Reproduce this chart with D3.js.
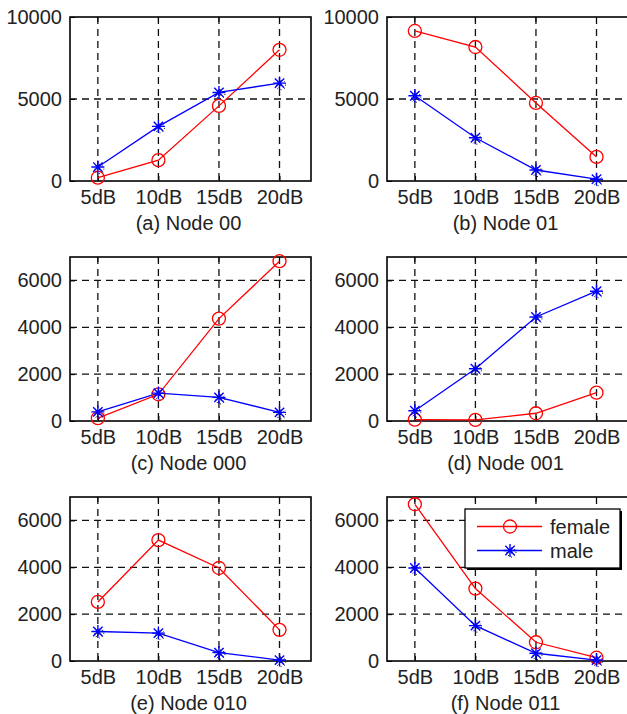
<!DOCTYPE html>
<html>
<head>
<meta charset="utf-8">
<script src="https://cdn.jsdelivr.net/npm/d3@7"></script>
<style>
  body { margin: 0; background: #fff; }
  svg { display: block; font-family: "Liberation Sans", Arial, sans-serif; }
</style>
</head>
<body>
<svg></svg>
<script>
// data
const snr = [5, 10, 15, 20];
const snrLabels = ['5dB', '10dB', '15dB', '20dB'];
const titles = ['(a) Node 00', '(b) Node 01', '(c) Node 000', '(d) Node 001', '(e) Node 010', '(f) Node 011'];
const yMax = [10000, 10000, 7000, 7000, 7000, 7000];
const yTicks = [[0, 5000, 10000], [0, 5000, 10000],
                [0, 2000, 4000, 6000], [0, 2000, 4000, 6000],
                [0, 2000, 4000, 6000], [0, 2000, 4000, 6000]];
const female = [
    [200, 1270, 4580, 8000],
    [9150, 8170, 4760, 1470],
    [120, 1140, 4370, 6820],
    [60, 50, 330, 1210],
    [2520, 5160, 3970, 1330],
    [6690, 3090, 800, 140]
];
const male = [
    [850, 3330, 5400, 5970],
    [5200, 2640, 670, 110],
    [390, 1190, 1010, 370],
    [440, 2230, 4440, 5540],
    [1260, 1190, 360, 40],
    [3970, 1510, 330, 40]
];
const legendNames = ['female', 'male'];

const width = 627, height = 714;
const colLeft = [70, 387];
const rowBottom = [181, 421, 661];
const pw = 241, ph = 164;
const fontSize = 20;

const svg = d3.select('svg').attr('width', width).attr('height', height);

function asterisk(s) {
    const d = s * 0.72;
    return `M${-s},0L${s},0M0,${-s}L0,${s}M${-d},${-d}L${d},${d}M${-d},${d}L${d},${-d}`;
}

function drawStar(g, x, y) {
    // faint black fringe like the original rendering
    g.append('path').attr('d', asterisk(5)).attr('transform', `translate(${x + 1.5},${y + 2})`)
        .attr('stroke', '#000').attr('stroke-width', 0.9).attr('fill', 'none')
        .attr('stroke-dasharray', '1.5,3');
    g.append('path').attr('d', asterisk(6.5)).attr('transform', `translate(${x},${y})`)
        .attr('stroke', '#0000ff').attr('stroke-width', 1.4).attr('fill', 'none');
}

titles.forEach((title, i) => {
    const col = i % 2, row = Math.floor(i / 2);
    const x0 = colLeft[col], y1 = rowBottom[row], y0 = y1 - ph;

    const xScale = d3.scaleLinear().domain([2.7, 22.6]).range([x0, x0 + pw]);
    const yScale = d3.scaleLinear().domain([0, yMax[i]]).range([y1, y0]);

    const g = svg.append('g');

    // grid
    g.selectAll('.vgrid').data(snr).enter().append('line')
        .attr('x1', d => xScale(d)).attr('x2', d => xScale(d))
        .attr('y1', y0).attr('y2', y1)
        .attr('stroke', '#111').attr('stroke-width', 1.3).attr('stroke-dasharray', '7,5');
    g.selectAll('.hgrid').data(yTicks[i].filter(t => t > 0 && t < yMax[i])).enter().append('line')
        .attr('x1', x0).attr('x2', x0 + pw)
        .attr('y1', d => yScale(d)).attr('y2', d => yScale(d))
        .attr('stroke', '#111').attr('stroke-width', 1.3).attr('stroke-dasharray', '7,5');

    // axes
    const xAxis = d3.axisBottom(xScale).tickValues(snr).tickFormat((d, k) => snrLabels[k])
        .tickSizeInner(-5).tickSizeOuter(0).tickPadding(9);
    g.append('g').attr('transform', `translate(0,${y1})`).call(xAxis)
        .call(a => a.select('.domain').remove());
    const yAxis = d3.axisLeft(yScale).tickValues(yTicks[i]).tickFormat(d3.format('d'))
        .tickSizeInner(-5).tickSizeOuter(0).tickPadding(8);
    g.append('g').attr('transform', `translate(${x0},0)`).call(yAxis)
        .call(a => a.select('.domain').remove());
    g.selectAll('.tick text').attr('font-size', fontSize).attr('fill', '#222');
    g.selectAll('.tick line').attr('stroke', '#000');

    // top ticks
    g.selectAll('.ttick').data(snr).enter().append('line')
        .attr('x1', d => xScale(d)).attr('x2', d => xScale(d))
        .attr('y1', y0).attr('y2', y0 + 5).attr('stroke', '#000');

    // box
    g.append('rect').attr('x', x0).attr('y', y0).attr('width', pw).attr('height', ph)
        .attr('fill', 'none').attr('stroke', '#000').attr('stroke-width', 1.6);

    // series
    const line = d3.line().x((d, k) => xScale(snr[k])).y(d => yScale(d));
    g.append('path').datum(female[i]).attr('d', line)
        .attr('fill', 'none').attr('stroke', '#ff0000').attr('stroke-width', 1.3);
    g.append('path').datum(male[i]).attr('d', line)
        .attr('fill', 'none').attr('stroke', '#0000ff').attr('stroke-width', 1.3);

    g.selectAll('.fcirc').data(female[i]).enter().append('circle')
        .attr('cx', (d, k) => xScale(snr[k])).attr('cy', d => yScale(d)).attr('r', 6.5)
        .attr('fill', 'none').attr('stroke', '#ff0000').attr('stroke-width', 1.3);
    male[i].forEach((d, k) => drawStar(g, xScale(snr[k]), yScale(d)));

    // subtitle
    g.append('text').text(title)
        .attr('x', x0 + pw / 2 - 2).attr('y', y1 + 49)
        .attr('text-anchor', 'middle').attr('font-size', fontSize).attr('fill', '#222');

    // legend in last panel
    if (i === 5) {
        const lx = 465, ly = 509, lw = 155, lh = 59;
        const lg = svg.append('g');
        lg.append('rect').attr('x', lx + 2).attr('y', ly + 2).attr('width', lw).attr('height', lh)
            .attr('fill', '#000');
        lg.append('rect').attr('x', lx).attr('y', ly).attr('width', lw).attr('height', lh)
            .attr('fill', '#fff').attr('stroke', '#000').attr('stroke-width', 1.3);
        const rows = [ly + 17.5, ly + 41.5];
        legendNames.forEach((name, k) => {
            const color = k === 0 ? '#ff0000' : '#0000ff';
            lg.append('line').attr('x1', lx + 12).attr('x2', lx + 77)
                .attr('y1', rows[k]).attr('y2', rows[k])
                .attr('stroke', color).attr('stroke-width', 1.3);
            if (k === 0) {
                lg.append('circle').attr('cx', lx + 45).attr('cy', rows[k]).attr('r', 6.5)
                    .attr('fill', 'none').attr('stroke', color).attr('stroke-width', 1.3);
            } else {
                drawStar(lg, lx + 45, rows[k]);
            }
            lg.append('text').text(name).attr('x', lx + 85).attr('y', rows[k] + 7)
                .attr('font-size', fontSize).attr('fill', '#222');
        });
    }
});
</script>
</body>
</html>
